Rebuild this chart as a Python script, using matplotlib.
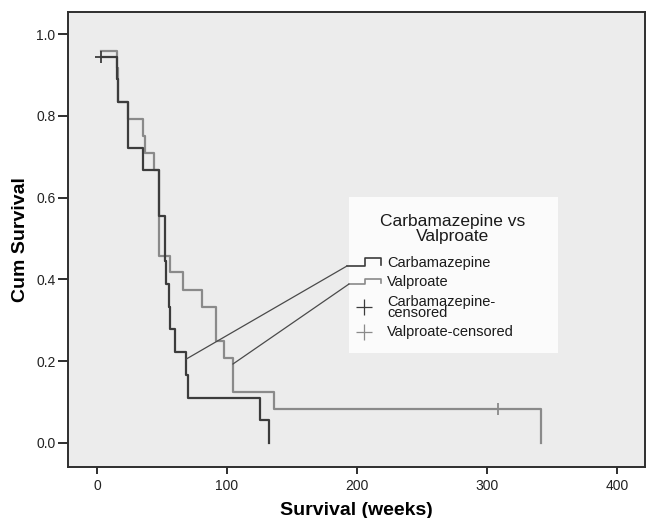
import matplotlib
matplotlib.use("Agg")
import matplotlib.pyplot as plt
from matplotlib.patches import Rectangle
from matplotlib.ticker import FormatStrFormatter

plt.rcParams['font.family'] = ['Liberation Sans', 'DejaVu Sans']

# Kaplan-Meier steps (weeks, cumulative survival)
carb_times = [3, 15, 16, 24, 35, 48, 52.5, 53, 55, 56, 60, 68.5, 70, 125, 132]
carb_surv = [0.944, 0.889, 0.833, 0.722, 0.667, 0.556, 0.444, 0.389, 0.333,
             0.278, 0.222, 0.167, 0.111, 0.056, 0.0]
carb_cens_t = [3]
carb_cens_s = [0.944]

valp_times = [3, 15, 16.5, 24, 35.5, 37, 44, 48, 56, 66.5, 81, 91.5, 97.5,
              104.5, 136.5, 341.5]
valp_surv = [0.958, 0.917, 0.833, 0.792, 0.75, 0.708, 0.667, 0.458, 0.417,
             0.375, 0.333, 0.25, 0.208, 0.125, 0.083, 0.0]
valp_cens_t = [308.5]
valp_cens_s = [0.083]

x_ticks = [0, 100, 200, 300, 400]
y_ticks = [0.0, 0.2, 0.4, 0.6, 0.8, 1.0]

carb_col = '#3c3c3c'
valp_col = '#8a8a8a'
edge_col = '#2e2e2e'

fig = plt.figure(figsize=(6.46, 5.18), dpi=100)
ax = fig.add_axes([0.1053, 0.0985, 0.8932, 0.8783])
ax.set_facecolor('#ececec')

ax.step(carb_times, carb_surv, where='post', color=carb_col, lw=1.6, zorder=3)
ax.step(valp_times, valp_surv, where='post', color=valp_col, lw=1.6, zorder=2)
ax.plot(carb_cens_t, carb_cens_s, '+', color=carb_col, ms=8, mew=1.3, zorder=4)
ax.plot(valp_cens_t, valp_cens_s, '+', color=valp_col, ms=8, mew=1.3, zorder=4)

ax.set_xlim(-22.3, 421.5)
ax.set_ylim(-0.0587, 1.054)
ax.set_xticks(x_ticks)
ax.set_yticks(y_ticks)
ax.yaxis.set_major_formatter(FormatStrFormatter('%.1f'))
ax.tick_params(axis='y', length=7, width=1.4, pad=2, labelsize=10,
               color=edge_col, labelcolor='#222222')
ax.tick_params(axis='x', length=5, width=1.4, pad=4, labelsize=10,
               color=edge_col, labelcolor='#222222')
for sp in ax.spines.values():
    sp.set_color(edge_col)
    sp.set_linewidth(1.4)

ax.set_xlabel('Survival (weeks)', fontsize=14, fontweight='bold', labelpad=6)
ax.set_ylabel('Cum Survival', fontsize=14, fontweight='bold', labelpad=5)

# legend box drawn by hand, SPSS style
ax.add_patch(Rectangle((0.487, 0.2505), 0.362, 0.3425, transform=ax.transAxes,
                       facecolor='#fbfbfb', edgecolor='none', zorder=5))
ax.text(0.667, 0.524, 'Carbamazepine vs\nValproate', transform=ax.transAxes,
        ha='center', va='center', fontsize=12.5, linespacing=1.0,
        color='#1a1a1a', zorder=6)

ax.plot([0.4835, 0.5147, 0.5147, 0.5425, 0.5425],
        [0.4418, 0.4418, 0.4587, 0.4587, 0.444],
        transform=ax.transAxes, color=carb_col, lw=1.2, zorder=6)
ax.plot([0.487, 0.5147, 0.5147, 0.5425, 0.5425],
        [0.4022, 0.4022, 0.4125, 0.4125, 0.4044],
        transform=ax.transAxes, color=valp_col, lw=1.2, zorder=6)
ax.plot([0.513], [0.352], '+', transform=ax.transAxes, color=carb_col,
        ms=11, mew=0.9, zorder=6)
ax.plot([0.513], [0.2967], '+', transform=ax.transAxes, color=valp_col,
        ms=11, mew=0.9, zorder=6)

entry_kw = dict(transform=ax.transAxes, ha='left', va='center', fontsize=10.5,
                color='#1a1a1a', zorder=6)
ax.text(0.553, 0.448, 'Carbamazepine', **entry_kw)
ax.text(0.553, 0.4066, 'Valproate', **entry_kw)
ax.text(0.553, 0.3505, 'Carbamazepine-\ncensored', linespacing=0.8, **entry_kw)
ax.text(0.553, 0.2967, 'Valproate-censored', **entry_kw)

# leader lines from the legend handles down to the curves
ax.annotate('', xy=(carb_times[11], carb_surv[10] - 0.017), xycoords='data',
            xytext=(0.4835, 0.4418), textcoords='axes fraction',
            arrowprops=dict(arrowstyle='-', color='#4a4a4a', lw=0.9,
                            shrinkA=0, shrinkB=0), zorder=6)
ax.annotate('', xy=(valp_times[13], valp_surv[12] - 0.015), xycoords='data',
            xytext=(0.487, 0.4022), textcoords='axes fraction',
            arrowprops=dict(arrowstyle='-', color='#4a4a4a', lw=0.9,
                            shrinkA=0, shrinkB=0), zorder=6)

fig.savefig('out.png', dpi=100, facecolor='white')
